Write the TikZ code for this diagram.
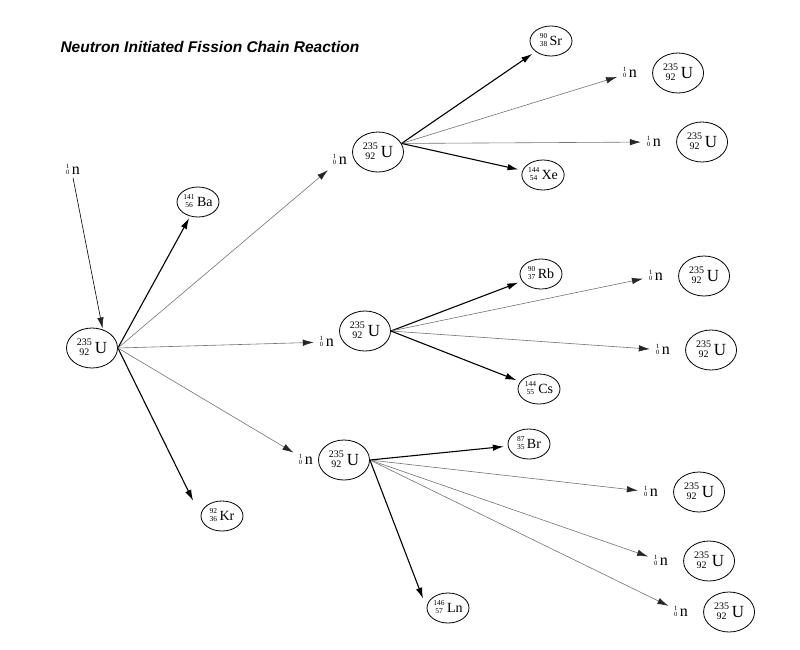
\documentclass[tikz,border=0pt]{standalone}
\usepackage{fontspec}
\setmainfont{Liberation Serif}
\newfontfamily\titlefont{Liberation Sans}
\usetikzlibrary{positioning,shapes.geometric,arrows.meta}

\newcommand{\nuc}[4][10]{\raisebox{\dimexpr .3em-#1pt/4\relax}{\fontsize{#1}{#1}\selectfont\begin{tabular}{@{}c@{}}#2\\#3\end{tabular}}\,#4}

\begin{document}
\begin{tikzpicture}[x=1pt, y=-1pt, >={Latex[length=11pt,width=6.5pt]},
    uran/.style={draw, ellipse, line width=0.8pt, minimum width=51pt, minimum height=40pt, inner sep=0pt, font=\fontsize{17}{17}\selectfont},
    frag/.style={draw, ellipse, line width=0.8pt, minimum width=42pt, minimum height=30pt, inner sep=0pt, font=\fontsize{14}{14}\selectfont},
    neut/.style={inner sep=1pt, font=\fontsize{16}{16}\selectfont},
    heavy/.style={->, line width=1.1pt, shorten >=4pt},
    light/.style={-{Latex[length=11pt,width=6.5pt,color=black!85]}, line width=0.6pt, black!55, shorten >=5pt}]
  \useasboundingbox (0,0) rectangle (800,649);

  \node[anchor=west, font=\titlefont\bfseries\itshape\fontsize{15.5}{15.5}\selectfont] (title) at (57,47) {Neutron Initiated Fission Chain Reaction};

  % first fission
  \node[neut] (n0) at (73,170) {\nuc[6.5]{1}{0}{n}};
  \node[uran] (U0) at (92,348) {\nuc{235}{92}{U}};
  \node[frag] (Ba) at (198,202) {\nuc[7.5]{141}{56}{Ba}};
  \node[frag] (Kr) at (222,516) {\nuc[7.5]{92}{36}{Kr}};

  % second generation
  \node[uran] (UA) at (378,152) {\nuc{235}{92}{U}};
  \node[neut, left=4pt of UA, yshift=-8pt] (nA) {\nuc[6.5]{1}{0}{n}};
  \node[uran] (UB) at (365,331) {\nuc{235}{92}{U}};
  \node[neut, left=4pt of UB, yshift=-11pt] (nB) {\nuc[6.5]{1}{0}{n}};
  \node[uran] (UC) at (344,460) {\nuc{235}{92}{U}};
  \node[neut, left=4pt of UC] (nC) {\nuc[6.5]{1}{0}{n}};

  % fragments
  \node[frag] (Sr) at (551,41) {\nuc[7.5]{90}{38}{Sr}};
  \node[frag] (Xe) at (543,175) {\nuc[7.5]{144}{54}{Xe}};
  \node[frag] (Rb) at (541,274) {\nuc[7.5]{90}{37}{Rb}};
  \node[frag] (Cs) at (539,389) {\nuc[7.5]{144}{55}{Cs}};
  \node[frag] (Br) at (529,444) {\nuc[7.5]{87}{35}{Br}};
  \node[frag] (Ln) at (448,608) {\nuc[7.5]{146}{57}{Ln}};

  % third generation
  \node[neut] (nA1) at (630,73) {\nuc[6.5]{1}{0}{n}};
  \node[uran, right=14pt of nA1] (UA1) {\nuc{235}{92}{U}};
  \node[neut] (nA2) at (654,142) {\nuc[6.5]{1}{0}{n}};
  \node[uran, right=14pt of nA2] (UA2) {\nuc{235}{92}{U}};
  \node[neut] (nB1) at (656,276) {\nuc[6.5]{1}{0}{n}};
  \node[uran, right=14pt of nB1] (UB1) {\nuc{235}{92}{U}};
  \node[neut] (nB2) at (663,350) {\nuc[6.5]{1}{0}{n}};
  \node[uran, right=14pt of nB2] (UB2) {\nuc{235}{92}{U}};
  \node[neut] (nC1) at (651,492) {\nuc[6.5]{1}{0}{n}};
  \node[uran, right=14pt of nC1] (UC1) {\nuc{235}{92}{U}};
  \node[neut] (nC2) at (661,561) {\nuc[6.5]{1}{0}{n}};
  \node[uran, right=14pt of nC2] (UC2) {\nuc{235}{92}{U}};
  \node[neut] (nC3) at (681,612) {\nuc[6.5]{1}{0}{n}};
  \node[uran, right=14pt of nC3] (UC3) {\nuc{235}{92}{U}};

  \draw[light, black, shorten >=1pt] (n0.south) -- (U0.60);
  \draw[heavy, shorten >=2pt] (U0.east) -- (Ba);
  \draw[heavy, shorten >=17pt] (U0.east) -- (Kr.west);
  \draw[light] (U0.east) -- (nA);
  \draw[light] (U0.east) -- (nB);
  \draw[light] (U0.east) -- (nC);

  \draw[heavy] (UA.20) -- (Sr);
  \draw[light] (UA.20) -- (nA1);
  \draw[light] (UA.20) -- (nA2);
  \draw[heavy] (UA.20) -- (Xe);

  \draw[heavy] (UB.east) -- (Rb);
  \draw[light] (UB.east) -- (nB1);
  \draw[light] (UB.east) -- (nB2);
  \draw[heavy] (UB.east) -- (Cs);

  \draw[heavy] (UC.east) -- (Br);
  \draw[light] (UC.east) -- (nC1);
  \draw[light] (UC.east) -- (nC2);
  \draw[light] (UC.east) -- (nC3);
  \draw[heavy, shorten >=10pt] (UC.east) -- (Ln.west);
\end{tikzpicture}
\end{document}
